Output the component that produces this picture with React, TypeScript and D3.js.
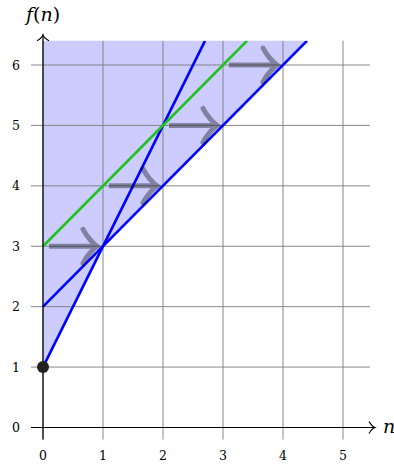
import React from 'react';
import * as d3 from 'd3';

// lines f(n) = a*n + b
const lines = [
  { name: 'steep', a: 2, b: 1, color: '#0000ff' },
  { name: 'lower', a: 1, b: 2, color: '#0000ff' },
  { name: 'upper', a: 1, b: 3, color: '#1fc21f' },
];
const arrowStarts = [
  [0, 3],
  [1, 4],
  [2, 5],
  [3, 6],
];
const startPoint = [0, 1];
const xTicks = [0, 1, 2, 3, 4, 5];
const yTicks = [0, 1, 2, 3, 4, 5, 6];

const width = 394;
const height = 465;
const xMin = -0.2;
const xMax = 5.45;
const yMin = -0.2;
const yMax = 6.4;
const serif = "'DejaVu Serif', 'Liberation Serif', serif";

export default function App() {
  const x = d3.scaleLinear().domain([0, 5]).range([43, 343]);
  const y = d3.scaleLinear().domain([0, 6]).range([427.5, 65]);

  // shaded region: above min(2n+1, n+2), n >= 0, clipped at yMax
  const region = d3
    .line<number[]>()
    .x((d) => x(d[0]))
    .y((d) => y(d[1]))([
    [0, yMax],
    [0, 1],
    [1, 3],
    [yMax - 2, yMax],
  ]);

  const arrowHead = (tx: number, ty: number) =>
    `M${tx - 14},${ty - 17} C${tx - 10},${ty - 9} ${tx - 3},${ty - 2} ${tx},${ty} ` +
    `C${tx - 3},${ty + 2} ${tx - 10},${ty + 9} ${tx - 14},${ty + 17}`;

  return (
    <svg
      width={width}
      height={height}
      style={{ position: 'absolute', left: 0, top: 0, fontFamily: serif }}
    >
      <defs>
        <clipPath id="plot">
          <rect x={x(xMin)} y={y(yMax)} width={x(xMax) - x(xMin)} height={y(yMin) - y(yMax)} />
        </clipPath>
      </defs>
      <path d={region || ''} fill="#ccccff" />
      {/* grid */}
      <g stroke="#7a7a7a" strokeWidth={0.9}>
        {xTicks.map((t) => (
          <line key={'gx' + t} x1={x(t)} x2={x(t)} y1={y(yMin)} y2={y(yMax)} />
        ))}
        {yTicks.map((t) => (
          <line key={'gy' + t} y1={y(t)} y2={y(t)} x1={x(xMin)} x2={x(xMax)} />
        ))}
      </g>
      {/* lines */}
      <g clipPath="url(#plot)">
        {lines.map((l) => {
          const nEnd = (yMax - l.b) / l.a;
          return (
            <line
              key={l.name}
              x1={x(0)}
              y1={y(l.b)}
              x2={x(nEnd)}
              y2={y(yMax)}
              stroke={l.color}
              strokeWidth={2.6}
            />
          );
        })}
      </g>
      {/* arrows */}
      <g opacity={0.36} stroke="#000" strokeWidth={5} fill="none" strokeLinecap="round">
        {arrowStarts.map(([a, b]) => (
          <g key={'ar' + a}>
            <line x1={x(a + 0.1)} x2={x(a + 0.9) - 3} y1={y(b)} y2={y(b)} strokeLinecap="butt" />
            <path d={arrowHead(x(a + 0.9), y(b))} />
          </g>
        ))}
      </g>
      {/* axes */}
      <g stroke="#000" strokeWidth={1.2} fill="none">
        <line x1={x(xMin)} x2={x(xMax) + 5} y1={y(0)} y2={y(0)} />
        <path d={`M${x(xMax) - 1},${y(0) - 6} Q${x(xMax) + 2},${y(0) - 1} ${x(xMax) + 5},${y(0)} Q${x(xMax) + 2},${y(0) + 1} ${x(xMax) - 1},${y(0) + 6}`} />
        <line x1={x(0)} x2={x(0)} y1={y(yMin)} y2={y(yMax) - 6} />
        <path d={`M${x(0) - 6},${y(yMax)} Q${x(0) - 1},${y(yMax) - 3} ${x(0)},${y(yMax) - 6} Q${x(0) + 1},${y(yMax) - 3} ${x(0) + 6},${y(yMax)}`} />
      </g>
      <circle cx={x(startPoint[0])} cy={y(startPoint[1])} r={6} fill="#222" />
      {/* tick labels */}
      <g fontSize={12.5} fill="#000">
        {xTicks.map((t) => (
          <text key={'tx' + t} x={x(t)} y={460} textAnchor="middle">
            {t}
          </text>
        ))}
        {yTicks.map((t) => (
          <text key={'ty' + t} x={16} y={y(t) + 4.5} textAnchor="middle">
            {t}
          </text>
        ))}
      </g>
      <text x={x(0)} y={21} textAnchor="middle" fontSize={19}>
        <tspan fontStyle="italic">f</tspan>
        <tspan>(</tspan>
        <tspan fontStyle="italic">n</tspan>
        <tspan>)</tspan>
      </text>
      <text x={383} y={y(0) + 5} fontSize={19} fontStyle="italic">
        n
      </text>
    </svg>
  );
}
